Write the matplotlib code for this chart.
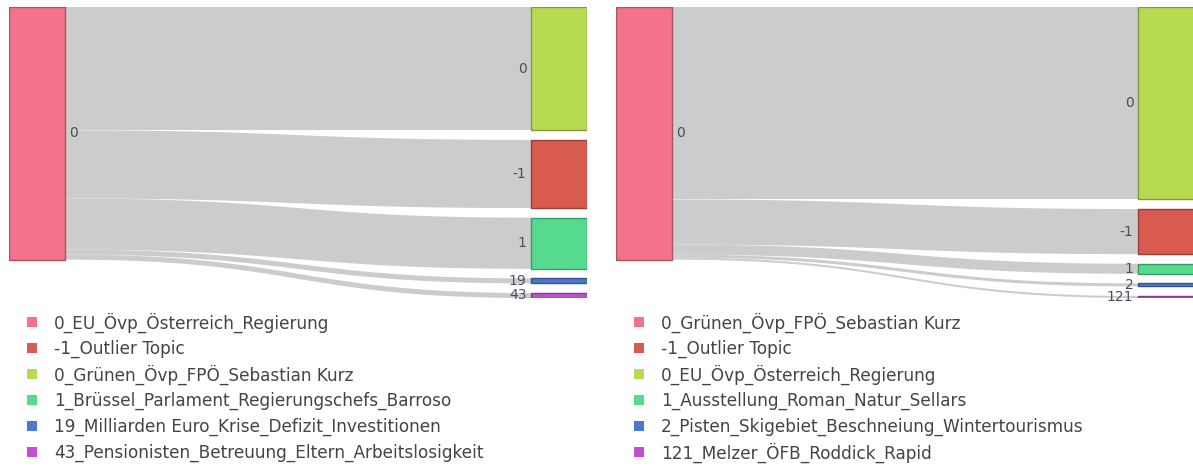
"""Two sankey panels: topic flows between models
"""
import numpy as np
import matplotlib.pyplot as plt
import matplotlib.patches as mpatches
from matplotlib.colors import to_rgb

W, H = 1193, 469

plt.rcParams['font.family'] = 'DejaVu Sans'

colors = ['#F4738A', '#D95B4F', '#B8DA53', '#55DA8E', '#4D78D0', '#C150D2']

# left panel
left_source_label = '0'
left_target_labels = ['0', '-1', '1', '19', '43']
left_values = [123, 68, 51, 5, 5]
left_legend = ['0_EU_Övp_Österreich_Regierung',
               '-1_Outlier Topic',
               '0_Grünen_Övp_FPÖ_Sebastian Kurz',
               '1_Brüssel_Parlament_Regierungschefs_Barroso',
               '19_Milliarden Euro_Krise_Defizit_Investitionen',
               '43_Pensionisten_Betreuung_Eltern_Arbeitslosigkeit']

# right panel
right_source_label = '0'
right_target_labels = ['0', '-1', '1', '2', '121']
right_values = [192, 45, 10, 3, 2]
right_legend = ['0_Grünen_Övp_FPÖ_Sebastian Kurz',
                '-1_Outlier Topic',
                '0_EU_Övp_Österreich_Regierung',
                '1_Ausstellung_Roman_Natur_Sellars',
                '2_Pisten_Skigebiet_Beschneiung_Wintertourismus',
                '121_Melzer_ÖFB_Roddick_Rapid']

# legend order -> node color: source, -1, 0, 1, ...
target_colors = [colors[2], colors[1], colors[3], colors[4], colors[5]]


def darker(c, f=0.7):
    r, g, b = to_rgb(c)
    return (r * f, g * f, b * f)


def px_axes(fig, x0, y0, x1, y1):
    return fig.add_axes([x0 / W, 1 - y1 / H, (x1 - x0) / W, (y1 - y0) / H])


def band(x0, x1, y0, y1):
    t = np.linspace(0, 1, 80)
    xm = (x0 + x1) / 2
    x = (1 - t)**3 * x0 + 3 * (1 - t)**2 * t * xm + 3 * (1 - t) * t**2 * xm + t**3 * x1
    y = (1 - t)**3 * y0 + 3 * (1 - t)**2 * t * y0 + 3 * (1 - t) * t**2 * y1 + t**3 * y1
    return x, y


def draw_sankey(ax, src_label, tgt_labels, values, src_color, tgt_colors):
    total = sum(values)
    pad = total * 0.038
    node_w = 56 / 578
    ax.set_xlim(0, 1)
    ax.set_ylim(total + pad * (len(values) - 1), 0)
    ax.axis('off')

    ax.add_patch(mpatches.Rectangle((0, 0), node_w, total, fc=src_color,
                                    ec=darker(src_color), lw=1, zorder=3))
    ax.text(node_w + 0.008, total / 2, src_label, ha='left', va='center',
            fontsize=10, color='#4a4d5c', zorder=4)

    ys = 0
    yt = 0
    for v, lab, c in zip(values, tgt_labels, tgt_colors):
        xa, ya0 = band(node_w, 1 - node_w, ys, yt)
        xb, ya1 = band(node_w, 1 - node_w, ys + v, yt + v)
        ax.fill(np.concatenate([xa, xb[::-1]]), np.concatenate([ya0, ya1[::-1]]),
                color='#cccccc', lw=0, zorder=1)
        ax.add_patch(mpatches.Rectangle((1 - node_w, yt), node_w, v, fc=c,
                                        ec=darker(c), lw=1, zorder=3))
        ax.text(1 - node_w - 0.008, yt + v / 2, lab, ha='right', va='center',
                fontsize=10, color='#4a4d5c', zorder=4)
        ys += v
        yt += v + pad


def add_legend(fig, names, node_colors, x_px):
    # rows are 26 px apart, first row centred at y = 322 px
    for i, (name, c) in enumerate(zip(names, node_colors)):
        yc = 322 + 26 * i
        fig.patches.append(mpatches.Rectangle(
            (x_px / W, 1 - (yc + 5) / H), 10 / W, 10 / H,
            transform=fig.transFigure, fc=c, ec='none'))
        fig.text((x_px + 27) / W, 1 - (yc - 1) / H, name, ha='left',
                 va='center_baseline', fontsize=12.2, color='#444444')


def main():
    fig = plt.figure(figsize=(W / 100, H / 100), dpi=100)

    ax1 = px_axes(fig, 9, 7, 587, 298)
    draw_sankey(ax1, left_source_label, left_target_labels, left_values,
                colors[0], target_colors)
    ax2 = px_axes(fig, 616, 7, 1194, 298)
    draw_sankey(ax2, right_source_label, right_target_labels, right_values,
                colors[0], target_colors)

    add_legend(fig, left_legend, colors, 27)
    add_legend(fig, right_legend, colors, 634)

    plt.savefig('out.png', dpi=100)
    plt.close()


if __name__ == '__main__':
    main()
